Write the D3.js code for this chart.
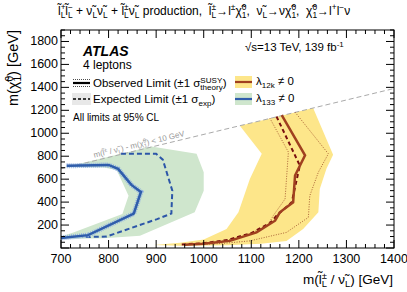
<!DOCTYPE html>
<html>
<head>
<meta charset="utf-8">
<script src="https://cdnjs.cloudflare.com/ajax/libs/d3/7.8.5/d3.min.js"></script>
<style>
  body { margin: 0; background: #fff; }
  text { font-family: "Liberation Sans", Arial, sans-serif; fill: #000; white-space: pre; }
</style>
</head>
<body>
<svg id="chart" width="407" height="292"></svg>
<script>
// tick values
var xTicks = [700, 800, 900, 1000, 1100, 1200, 1300, 1400];
var yTicks = [200, 400, 600, 800, 1000, 1200, 1400, 1600, 1800];

// lambda_133 (blue / green), [m(slepton/snu), m(chi10)] in GeV
var blueObs = [[712,716],[800,724],[820,690],[848,550],[868,488],[853,300],[757,112],[700,88]];
var blueExp = [[826,821],[900,821],[914,770],[934,500],[932,300],[902,252],[796,100],[745,95]];
var greenBand = [[705,705],[712,708],[890,884],[985,821],[1000,661],[1000,500],[981,311],[866,106],[790,85],[700,78],
                 [700,100],[726,136],[829,296],[842,456],[817,680],[790,702]];

// lambda_12k (red / yellow)
var redObs = [[1164,1158],[1213,807],[1192,632],[1188,398],[1160,311],[1150,238],[1111,136],[1055,62],[1000,38],[960,28]];
var redExp = [[1153,1146],[1202,719],[1185,398],[1153,281],[1140,220],[1100,130],[1050,70],[1000,42],[950,30]];
var redObsDown = [[1139,1132],[1178,836],[1174,602],[1171,427],[1146,281],[1135,200],[1090,110],[1040,60],[980,35]];
var redObsUp = [[1192,1184],[1262,821],[1241,661],[1223,456],[1220,267],[1174,136],[1097,62],[1040,40],[990,30]];
var yellowBand = [[1076,1066],[1230,1220],[1272,812],[1258,690],[1244,515],[1241,311],[1209,165],[1174,62],[1120,38],[1050,25],[950,20],[895,26],
                  [950,45],[1000,75],[1048,165],[1073,311],[1097,602],[1122,821]];

// kinematic limit m(slepton) - m(chi10) = 10 GeV
var diagonal = [[700,690],[1400,1390]];

var svg = d3.select("#chart");
var pL = 61, pR = 394, pT = 30, pB = 248;

var x = d3.scaleLinear().domain([700, 1400]).range([pL, pR]);
var y = d3.scaleLinear().domain([0, 1900]).range([pB, pT]);

var line = d3.line().x(function(d) { return x(d[0]); }).y(function(d) { return y(d[1]); });
var area = d3.line().x(function(d) { return x(d[0]); }).y(function(d) { return y(d[1]); }).curve(d3.curveLinearClosed);

svg.append("clipPath").attr("id", "clip")
    .append("rect").attr("x", pL).attr("y", pT).attr("width", pR - pL).attr("height", pB - pT);

var plot = svg.append("g").attr("clip-path", "url(#clip)");

// bands
plot.append("path").attr("d", area(greenBand)).attr("fill", "#cfe6cd");
plot.append("path").attr("d", area(yellowBand)).attr("fill", "#fde68a");

// diagonal
plot.append("path").attr("d", line(diagonal)).attr("fill", "none")
    .attr("stroke", "#aaa").attr("stroke-width", 1).attr("stroke-dasharray", "5,3");

// blue curves
plot.append("path").attr("d", line(blueExp)).attr("fill", "none")
    .attr("stroke", "#2c56a8").attr("stroke-width", 2).attr("stroke-dasharray", "5,3");
plot.append("path").attr("d", line(blueObs)).attr("fill", "none")
    .attr("stroke", "#8fb0e0").attr("stroke-width", 5).attr("stroke-dasharray", "1,1");
plot.append("path").attr("d", line(blueObs)).attr("fill", "none")
    .attr("stroke", "#2f5dab").attr("stroke-width", 2.5);

// red curves
[redObsDown, redObsUp].forEach(function(d) {
  plot.append("path").attr("d", line(d)).attr("fill", "none")
      .attr("stroke", "#a0522d").attr("stroke-width", 0.9).attr("stroke-dasharray", "1,1.5");
});
plot.append("path").attr("d", line(redExp)).attr("fill", "none")
    .attr("stroke", "#7a0f0f").attr("stroke-width", 2).attr("stroke-dasharray", "4,3");
plot.append("path").attr("d", line(redObs)).attr("fill", "none")
    .attr("stroke", "#a0401f").attr("stroke-width", 2.5);

// frame and ticks (ATLAS style, inside, all four sides)
svg.append("rect").attr("x", pL).attr("y", pT).attr("width", pR - pL).attr("height", pB - pT)
    .attr("fill", "none").attr("stroke", "#000").attr("stroke-width", 1);

var ticks = svg.append("g").attr("stroke", "#000").attr("stroke-width", 1);
d3.range(700, 1401, 20).forEach(function(v) {
  var major = v % 100 === 0, len = major ? 8 : 4;
  ticks.append("line").attr("x1", x(v)).attr("x2", x(v)).attr("y1", pB).attr("y2", pB - len);
  ticks.append("line").attr("x1", x(v)).attr("x2", x(v)).attr("y1", pT).attr("y2", pT + len);
});
d3.range(0, 1901, 50).forEach(function(v) {
  var major = v % 200 === 0, len = major ? 8 : 4;
  ticks.append("line").attr("y1", y(v)).attr("y2", y(v)).attr("x1", pL).attr("x2", pL + len);
  ticks.append("line").attr("y1", y(v)).attr("y2", y(v)).attr("x1", pR).attr("x2", pR - len);
});

svg.append("g").selectAll("text").data(xTicks).join("text")
    .attr("x", function(d) { return x(d); }).attr("y", pB + 15)
    .attr("text-anchor", "middle").attr("font-size", 12.5).text(function(d) { return d; });
svg.append("g").selectAll("text").data(yTicks).join("text")
    .attr("x", pL - 3).attr("y", function(d) { return y(d) + 4; })
    .attr("text-anchor", "end").attr("font-size", 12.5).text(function(d) { return d; });

// rich text helper: parts = [base, sup, sub]
function rich(el, parts, fs) {
  var off = 0;
  parts.forEach(function(p) {
    el.append("tspan").attr("dy", -off).text(p[0]);
    off = 0;
    if (p[1]) {
      var s = el.append("tspan").attr("dy", -fs * 0.38).attr("font-size", fs * 0.7).text(p[1]);
      off = -fs * 0.38;
      if (p[2]) {
        var w = s.node().getComputedTextLength();
        el.append("tspan").attr("dx", -w).attr("dy", fs * 0.62).attr("font-size", fs * 0.7).text(p[2]);
        off = fs * 0.24;
      }
    } else if (p[2]) {
      el.append("tspan").attr("dy", fs * 0.24).attr("font-size", fs * 0.7).text(p[2]);
      off = fs * 0.24;
    }
  });
  return el;
}

var L = "l\u0303", NU = "\u03bd\u0303", CHI = "\u03c7\u0303";

// title
rich(svg.append("text").attr("x", 58).attr("y", 15).attr("font-size", 12), [
  [L, "+", "L"], [L, "\u2212", "L"], [" + " + NU, "", "L"], [NU, "", "L"], [" + " + L, "\u00b1", "L"], [NU, "", "L"],
  [" production,  " + L, "\u00b1", "L"], ["\u2192l", "\u00b1", ""], [CHI, "0", "1"], [",  " + NU, "", "L"],
  ["\u2192\u03bd" + CHI, "0", "1"], [",  " + CHI, "0", "1"], ["\u2192l", "+", ""], ["l", "\u2212", ""], ["\u03bd", "", ""]
], 12);

// axis titles
rich(svg.append("text").attr("x", 393).attr("y", 284).attr("text-anchor", "end").attr("font-size", 13.5), [
  ["m(" + L, "\u00b1", "L"], [" / " + NU, "", "L"], [") [GeV]", "", ""]
], 13.5);
rich(svg.append("text").attr("transform", "translate(18," + pT + ") rotate(-90)").attr("text-anchor", "end").attr("font-size", 14.5), [
  ["m(" + CHI, "0", "1"], [") [GeV]", "", ""]
], 14.5);

// labels inside plot
svg.append("text").attr("x", 83).attr("y", 56).attr("font-size", 14).attr("font-weight", "bold")
    .attr("font-style", "italic").text("ATLAS");
svg.append("text").attr("x", 83).attr("y", 69).attr("font-size", 12).text("4 leptons");
rich(svg.append("text").attr("x", 245).attr("y", 51).attr("font-size", 11.5), [
  ["\u221as=13 TeV, 139 fb", "-1", ""]
], 11.5);
svg.append("text").attr("x", 73).attr("y", 121).attr("font-size", 10).text("All limits at 95% CL");

// legend, left column
var lg = svg.append("g");
lg.append("line").attr("x1", 73).attr("x2", 90).attr("y1", 83).attr("y2", 83).attr("stroke", "#000").attr("stroke-width", 2.2);
[79.5, 86.5].forEach(function(v) {
  lg.append("line").attr("x1", 73).attr("x2", 90).attr("y1", v).attr("y2", v)
      .attr("stroke", "#000").attr("stroke-width", 0.7).attr("stroke-dasharray", "1,1");
});
rich(lg.append("text").attr("x", 93).attr("y", 87).attr("font-size", 11.5), [
  ["Observed Limit (\u00b11 \u03c3", "SUSY", "theory"], [")", "", ""]
], 11.5);
lg.append("rect").attr("x", 72).attr("y", 93).attr("width", 19).attr("height", 12).attr("fill", "#e8e8e8");
lg.append("line").attr("x1", 73).attr("x2", 90).attr("y1", 99).attr("y2", 99).attr("stroke", "#000")
    .attr("stroke-width", 1.6).attr("stroke-dasharray", "3,2");
rich(lg.append("text").attr("x", 93).attr("y", 103).attr("font-size", 11.5), [
  ["Expected Limit (\u00b11 \u03c3", "", "exp"], [")", "", ""]
], 11.5);

// legend, right column
lg.append("rect").attr("x", 235).attr("y", 76).attr("width", 17).attr("height", 12).attr("fill", "#fde68a");
lg.append("line").attr("x1", 235).attr("x2", 252).attr("y1", 82).attr("y2", 82).attr("stroke", "#a0401f").attr("stroke-width", 2.2);
rich(lg.append("text").attr("x", 256).attr("y", 85).attr("font-size", 11.5), [
  ["\u03bb", "", "12k"], [" \u2260 0", "", ""]
], 11.5);
lg.append("rect").attr("x", 235).attr("y", 93).attr("width", 17).attr("height", 12).attr("fill", "#cfe6cd");
lg.append("line").attr("x1", 235).attr("x2", 252).attr("y1", 99).attr("y2", 99).attr("stroke", "#2f5dab").attr("stroke-width", 2.2);
rich(lg.append("text").attr("x", 256).attr("y", 102).attr("font-size", 11.5), [
  ["\u03bb", "", "133"], [" \u2260 0", "", ""]
], 11.5);

// diagonal label
var ang = Math.atan2(y(1390) - y(690), x(1400) - x(700)) * 180 / Math.PI;
var lx = x(770), ly = y(760) - 3;
rich(svg.append("text").attr("transform", "translate(" + lx + "," + ly + ") rotate(" + ang + ")")
    .attr("font-size", 8).style("fill", "#999"), [
  ["m(" + L, "\u00b1", ""], [" / " + NU, "", "L"], [") - m(" + CHI, "0", "1"], [") < 10 GeV", "", ""]
], 8).selectAll("tspan").style("fill", "#999");
</script>
</body>
</html>
